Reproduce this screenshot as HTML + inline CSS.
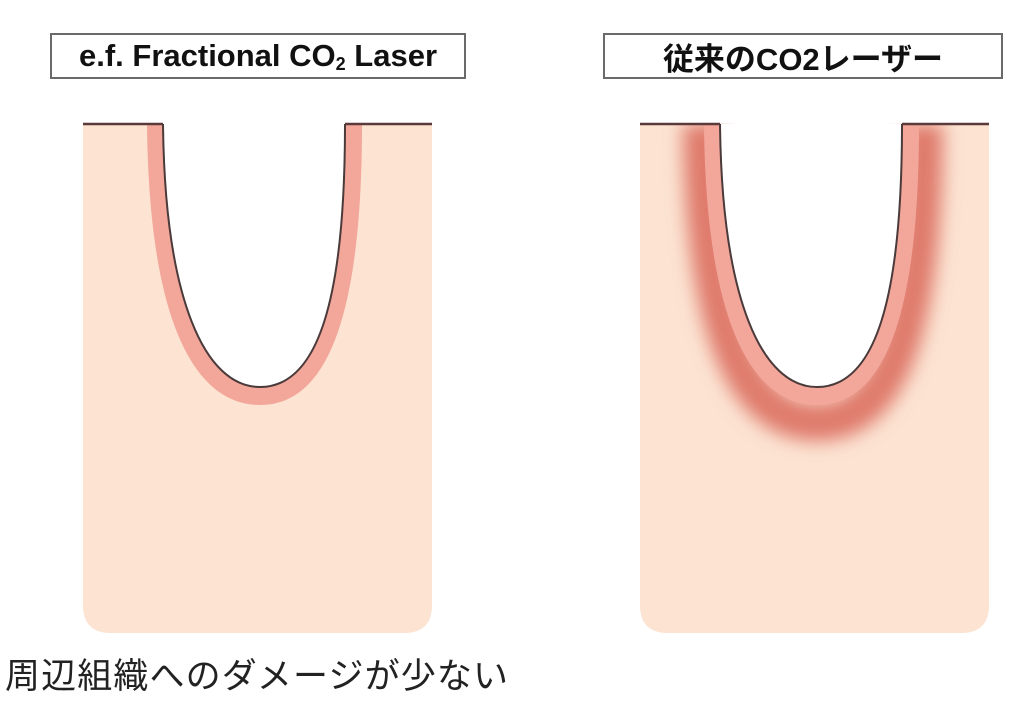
<!DOCTYPE html>
<html><head><meta charset="utf-8"><style>
html,body{margin:0;padding:0;background:#fff;width:1024px;height:722px;overflow:hidden}
.box{position:absolute;top:33px;height:46px;border:2px solid #6a6a6a;background:#fff;box-sizing:border-box;display:flex;align-items:center;justify-content:center;font-family:"Liberation Sans","Noto Sans CJK JP",sans-serif;font-weight:bold;font-size:31px;color:#111;white-space:nowrap}
.sub{font-size:18px;position:relative;top:8px}
</style></head><body>
<svg width="1024" height="722" style="position:absolute;left:0;top:0">
<defs>
<filter id="bl" x="-30%" y="-30%" width="160%" height="160%"><feGaussianBlur stdDeviation="9"/></filter>
<g id="shape">
<path d="M83,124 L432,124 L432,605 Q432,633 404,633 L111,633 Q83,633 83,605 Z" fill="#fce3d2"/>
</g>
</defs>
<use href="#shape"/>
<path d="M147,124 C149,330 198,405 260,405 C322,405 362,330 362,124 Z" fill="#f3a79b"/>
<path d="M163,124 C165,300 205,387 260,387 C318,387 345,300 345,124 Z" fill="#fff"/>
<path d="M163,124 C165,300 205,387 260,387 C318,387 345,300 345,124" fill="none" stroke="#4a3a3a" stroke-width="2"/>
<path d="M83,124 L163,124 M345,124 L432,124" stroke="#5a3a3a" stroke-width="2.5"/>
<g transform="translate(557,0)">
<use href="#shape"/>
<path d="M145,124 C147,345 193,422 260,422 C327,422 367,345 367,124" fill="none" stroke="#df7a6c" stroke-width="38" filter="url(#bl)"/>
<path d="M147,124 C149,330 198,405 260,405 C322,405 362,330 362,124 Z" fill="#f3a79b"/>
<path d="M163,124 C165,300 205,387 260,387 C318,387 345,300 345,124 Z" fill="#fff"/>
<path d="M163,124 C165,300 205,387 260,387 C318,387 345,300 345,124" fill="none" stroke="#4a3a3a" stroke-width="2"/>
<rect x="60" y="100" width="400" height="23" fill="#fff"/>
<path d="M83,124 L163,124 M345,124 L432,124" stroke="#5a3a3a" stroke-width="2.5"/>
</g>
<text x="5" y="688" font-family="Liberation Sans,Noto Sans CJK JP,sans-serif" font-size="35" fill="#222" textLength="503">周辺組織へのダメージが少ない</text>
</svg>
<div class="box" style="left:50px;width:416px">e.f. Fractional CO<span class="sub">2</span>&nbsp;Laser</div>
<div class="box" style="left:603px;width:400px">従来のCO2レーザー</div>
</body></html>
